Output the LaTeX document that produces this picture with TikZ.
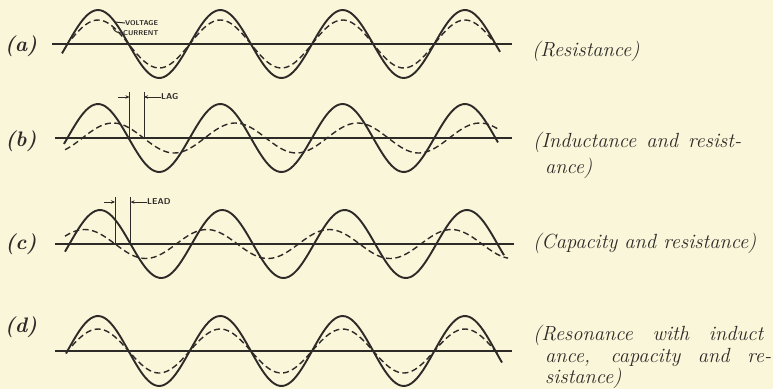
\documentclass[tikz,border=0pt]{standalone}
\usetikzlibrary{arrows.meta}
\definecolor{paper}{RGB}{250,246,218}
\definecolor{ink}{RGB}{45,42,40}
\tikzset{
  axisline/.style={ink, line width=1.4pt},
  volt/.style={ink, line width=1.9pt, smooth, samples=160},
  curr/.style={ink, line width=1.4pt, dash pattern=on 6pt off 3.5pt, smooth, samples=160},
  tag/.style={font=\fontsize{7}{8}\sffamily\bfseries, text=ink, inner sep=0pt, anchor=west},
  bigtag/.style={tag, font=\fontsize{8.5}{9}\sffamily\bfseries},
  marker/.style={ink, line width=1pt},
  ptr/.style={ink, line width=0.9pt, -{Stealth[length=4pt,width=3.5pt]}},
  caselabel/.style={font=\fontsize{21}{24}\selectfont\bfseries\itshape, text=ink, inner sep=0pt},
  caption/.style={font=\fontsize{20.5}{24}\selectfont\itshape, text=ink, inner sep=0pt, anchor=base west},
}
% degrees per pixel for one period of 122.3
\newcommand{\kw}{2.9436}

\begin{document}
\begin{tikzpicture}[x=1pt, y=-1pt]
  \fill[paper] (0,0) rectangle (773,389);
  \useasboundingbox (0,0) rectangle (773,389);

  % (a) resistance: in phase
  \draw[axisline] (52,44) -- (512,44);
  \draw[volt] plot[domain=62:500] (\x, {44-34*cos(\kw*(\x-98))});
  \draw[curr] plot[domain=72:495] (\x, {44-24*cos(\kw*(\x-98))});
  \node[tag] (volt) at (125,23) {VOLTAGE};
  \node[tag] (curr) at (123,33) {CURRENT};
  \coordinate (volt-pt) at (115,22);
  \coordinate (curr-pt) at (113,28);
  \draw[marker] (volt-pt) -- (volt.west);
  \draw[marker] (curr-pt) to[out=-70, in=180] (curr.west);

  % (b) inductance: current lags
  \draw[axisline] (55,138) -- (512,138);
  \draw[volt] plot[domain=64:498] (\x, {138-34*cos(\kw*(\x-98))});
  \draw[curr] plot[domain=65:500] (\x, {138-15*cos(\kw*(\x-113))});
  \coordinate (lagL) at (129.5,92);
  \coordinate (lagR) at (144,92);
  \draw[marker] (lagL) -- (lagL |- 0,138);
  \draw[marker] (lagR) -- (lagR |- 0,138);
  \node[bigtag] (lag) at (161,97) {LAG};
  \coordinate (lag-tail) at (118,97);
  \draw[ptr] (lag-tail) -- (lag-tail -| lagL);
  \draw[ptr] (lag.west) -- (lag.west -| lagR);

  % (c) capacity: current leads
  \draw[axisline] (55,244) -- (514,244);
  \draw[volt] plot[domain=65:504] (\x, {244-34*cos(\kw*(\x-100))});
  \draw[curr] plot[domain=65:508] (\x, {244-14.5*cos(\kw*(\x-84.5))});
  \coordinate (leadL) at (115,197);
  \coordinate (leadR) at (130.6,197);
  \draw[marker] (leadL) -- (leadL |- 0,244);
  \draw[marker] (leadR) -- (leadR |- 0,244);
  \node[bigtag] (lead) at (147,202) {LEAD};
  \coordinate (lead-tail) at (104,202);
  \draw[ptr] (lead-tail) -- (lead-tail -| leadL);
  \draw[ptr] (lead.west) -- (lead.west -| leadR);

  % (d) resonance: in phase again
  \draw[axisline] (55,351) -- (512,351);
  \draw[volt] plot[domain=66:502] (\x, {351-35*cos(\kw*(\x-98))});
  \draw[curr] plot[domain=72:498] (\x, {351-22*cos(\kw*(\x-98))});

  % Labels
  \node[caselabel] (case-a) at (21,46) {(a)};
  \node[caselabel] (case-b) at (21,141) {(b)};
  \node[caselabel] (case-c) at (21,244) {(c)};
  \node[caselabel] (case-d) at (21,327) {(d)};

  % Right side: what each case is
  \node[caption] (cap-a) at (532,56) {(Resistance)};
  \node[caption] (cap-b1) at (533,147) {\makebox[208pt][s]{(Inductance and resist-}};
  \node[caption] (cap-b2) at (545,173) {ance)};
  \node[caption] (cap-c) at (533,248) {(Capacity and resistance)};
  \node[caption] (cap-d1) at (533,340) {\makebox[230pt][s]{(Resonance with induct}};
  \node[caption] (cap-d2) at (545,362) {\makebox[226pt][s]{ance, capacity and re-}};
  \node[caption] (cap-d3) at (545,383) {sistance)};
\end{tikzpicture}
\end{document}
